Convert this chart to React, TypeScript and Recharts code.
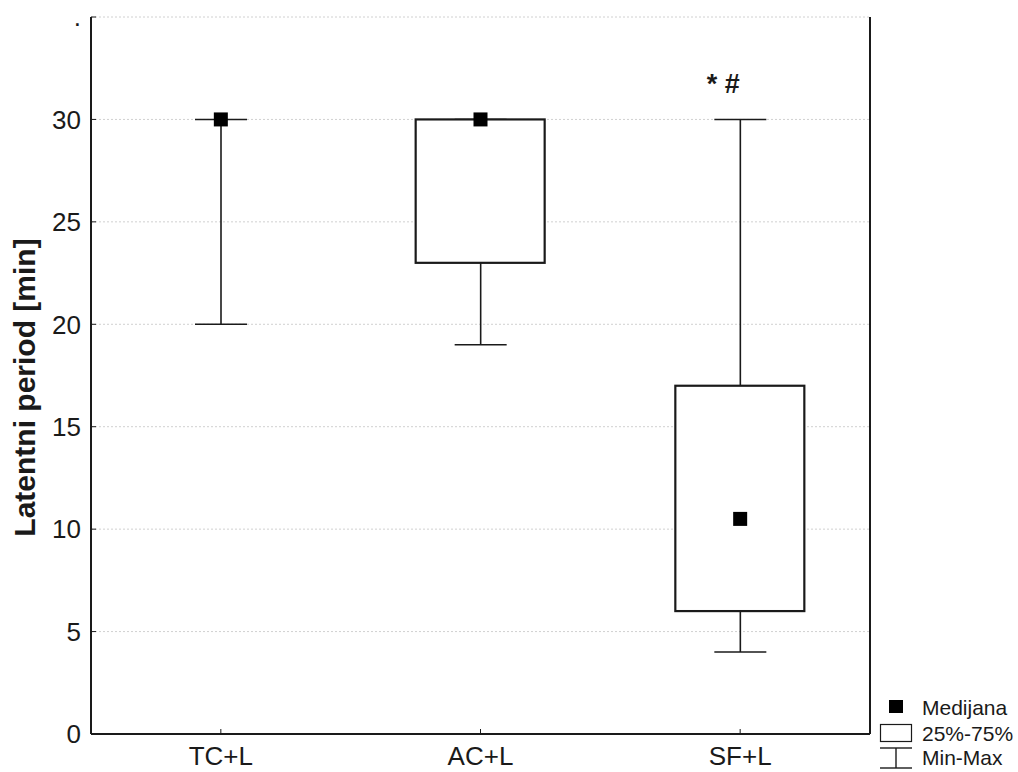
import { ComposedChart, Bar, Scatter, XAxis, YAxis, CartesianGrid, LabelList } from 'recharts';

const categories = ['TC+L', 'AC+L', 'SF+L'];
const minVals = [20, 19, 4];
const q1Vals = [30, 23, 6];
const medianVals = [30, 30, 10.5];
const q3Vals = [30, 30, 17];
const maxVals = [30, 30, 30];
const notes = ['', '', '* #'];
const yTicks = [0, 5, 10, 15, 20, 25, 30, 35];

const data = categories.map((name, i) => ({
  name,
  whisker: [minVals[i], maxVals[i]],
  box: [q1Vals[i], q3Vals[i]],
  median: medianVals[i],
  note: notes[i],
}));

const FONT = '"Liberation Sans", Arial, sans-serif';
const INK = '#1a1a1a';

// vertical line with caps at both ends
const WhiskerShape = (props: any) => {
  const { x, y, width, height } = props;
  const cx = x + width / 2;
  return (
    <g stroke={INK} strokeWidth={1.6}>
      <line x1={cx} y1={y} x2={cx} y2={y + height} />
      <line x1={x} y1={y} x2={x + width} y2={y} />
      <line x1={x} y1={y + height} x2={x + width} y2={y + height} />
    </g>
  );
};

const BoxShape = (props: any) => {
  const { x, y, width, height } = props;
  if (!height || Math.abs(height) < 0.5) return null;
  return <rect x={x} y={y} width={width} height={height} fill="#fff" stroke={INK} strokeWidth={2.2} />;
};

const MedianShape = (props: any) => {
  const { cx, cy } = props;
  return <rect x={cx - 7} y={cy - 7} width={14} height={14} fill="#000" />;
};

const NoteLabel = (props: any) => {
  const { x, y, width, value } = props;
  if (!value) return null;
  return (
    <text x={x + width / 2 - 17} y={y - 26} textAnchor="middle" fontFamily={FONT} fontWeight="bold" fontSize={27} fill={INK}>
      {value}
    </text>
  );
};

const YTitle = (props: any) => {
  const { viewBox } = props;
  const cy = viewBox.y + viewBox.height / 2 + 12;
  return (
    <text x={35} y={cy} transform={`rotate(-90, 35, ${cy})`} textAnchor="middle" fontFamily={FONT} fontWeight="bold" fontSize={30} fill={INK}>
      Latentni period [min]
    </text>
  );
};

const LegendBox = () => (
  <svg width={142} height={76} style={{ position: 'absolute', left: 876, top: 696 }}>
    <rect x={13} y={4} width={14} height={13} fill="#000" />
    <text x={46} y={11} dominantBaseline="central" fontFamily={FONT} fontSize={21} fill={INK}>Medijana</text>
    <rect x={4.5} y={28.5} width={31} height={17} fill="#fff" stroke={INK} strokeWidth={1.2} />
    <text x={46} y={37} dominantBaseline="central" fontFamily={FONT} fontSize={21} fill={INK}>25%-75%</text>
    <g stroke={INK} strokeWidth={1.4}>
      <line x1={4} y1={52} x2={36} y2={52} />
      <line x1={20} y1={52} x2={20} y2={72} />
      <line x1={4} y1={72} x2={36} y2={72} />
    </g>
    <text x={46} y={61} dominantBaseline="central" fontFamily={FONT} fontSize={21} fill={INK}>Min-Max</text>
  </svg>
);

export default function App() {
  const tickStyle = { fontFamily: FONT, fontSize: 26, fill: INK };
  return (
    <div style={{ position: 'absolute', left: 0, top: 0, width: 1018, height: 772, background: '#fff' }}>
      <ComposedChart width={1018} height={772} data={data} margin={{ top: 17, right: 0, bottom: 0, left: 0 }}>
        <CartesianGrid xAxisId="main" yAxisId="left" vertical={false} stroke="#d0d0d0" strokeDasharray="2 2" />
        <XAxis
          xAxisId="main"
          dataKey="name"
          orientation="bottom"
          height={38}
          tickSize={-5}
          tickMargin={18}
          tick={tickStyle}
          axisLine={{ stroke: INK, strokeWidth: 2 }}
          tickLine={{ stroke: INK }}
        />
        <XAxis
          xAxisId="aux"
          dataKey="name"
          orientation="top"
          height={0}
          tickSize={-5}
          tick={false}
          axisLine={{ stroke: INK, strokeWidth: 2 }}
          tickLine={{ stroke: INK }}
        />
        <YAxis
          yAxisId="left"
          type="number"
          domain={[0, 35]}
          ticks={yTicks}
          width={91}
          tickSize={-5}
          tickMargin={15}
          tick={tickStyle}
          tickFormatter={(v: number) => (v === 35 ? '.' : String(v))}
          axisLine={{ stroke: INK, strokeWidth: 2 }}
          tickLine={{ stroke: INK }}
          label={<YTitle />}
        />
        <YAxis
          yAxisId="right"
          orientation="right"
          type="number"
          domain={[0, 35]}
          ticks={yTicks}
          width={148}
          tickSize={-5}
          tick={false}
          axisLine={{ stroke: INK, strokeWidth: 2 }}
          tickLine={{ stroke: INK }}
        />
        <Bar xAxisId="aux" yAxisId="left" dataKey="whisker" barSize={52} shape={<WhiskerShape />} isAnimationActive={false}>
          <LabelList dataKey="note" content={<NoteLabel />} />
        </Bar>
        <Bar xAxisId="main" yAxisId="right" dataKey="box" barSize={129} shape={<BoxShape />} isAnimationActive={false} />
        <Scatter xAxisId="main" yAxisId="left" dataKey="median" shape={<MedianShape />} isAnimationActive={false} />
      </ComposedChart>
      <LegendBox />
    </div>
  );
}
